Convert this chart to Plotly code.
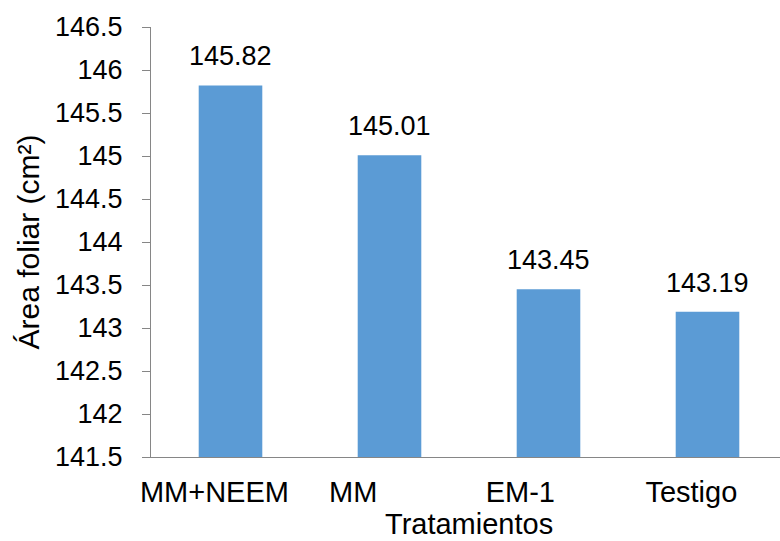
import plotly.graph_objects as go

# Leaf area per treatment
tratamientos = ["MM+NEEM", "MM", "EM-1", "Testigo"]
area_foliar = [145.82, 145.01, 143.45, 143.19]
# trailing spaces carried by the category labels in the source sheet
relleno = [4, 9, 7, 4]

etiquetas = [t + "\u00a0" * n for t, n in zip(tratamientos, relleno)]
FONT = "Liberation Sans, Arial, sans-serif"
x_idx = list(range(len(tratamientos)))

fig = go.Figure(
    go.Bar(
        x=x_idx,
        y=area_foliar,
        width=0.4,
        marker=dict(color="#5B9BD5", line=dict(width=0)),
        hoverinfo="x+y",
    )
)

# value labels above each bar
for xi, v in zip(x_idx, area_foliar):
    fig.add_annotation(
        x=xi, y=v, text=f"{v:.2f}", showarrow=False,
        xanchor="center", yanchor="bottom", yshift=12,
        font=dict(family=FONT, size=27, color="#000000"),
    )

# x-axis title, centred under the full category span, resting on the bottom edge
fig.add_annotation(
    x=sum(x_idx) / len(x_idx), xref="x",
    y=0, yref="paper", yanchor="bottom", yshift=-84,
    text="Tratamientos", showarrow=False, borderpad=0,
    font=dict(family=FONT, size=29, color="#000000"),
)

fig.update_layout(
    width=780,
    height=541,
    margin=dict(l=151, r=0, t=27, b=84),
    paper_bgcolor="white",
    plot_bgcolor="white",
    showlegend=False,
    font=dict(family=FONT, size=27, color="#000000"),
    xaxis=dict(
        range=[-0.5, 3.456],
        tickmode="array",
        tickvals=x_idx,
        ticktext=etiquetas,
        tickangle=0,
        automargin=False,
        showline=True,
        linecolor="#868686",
        linewidth=1,
        ticks="",
        showgrid=False,
        zeroline=False,
        ticklabelstandoff=9,
        tickfont=dict(family=FONT, size=29, color="#000000"),
    ),
    yaxis=dict(
        range=[141.5, 146.5],
        dtick=0.5,
        tick0=141.5,
        automargin=False,
        showline=True,
        linecolor="#868686",
        linewidth=1,
        ticks="outside",
        ticklen=8,
        tickcolor="#868686",
        showgrid=False,
        zeroline=False,
        ticklabelstandoff=14,
        tickfont=dict(family=FONT, size=27, color="#000000"),
        title=dict(text="Área foliar (cm²)", font=dict(family=FONT, size=30), standoff=6),
    ),
)

fig.write_html("out.html")
